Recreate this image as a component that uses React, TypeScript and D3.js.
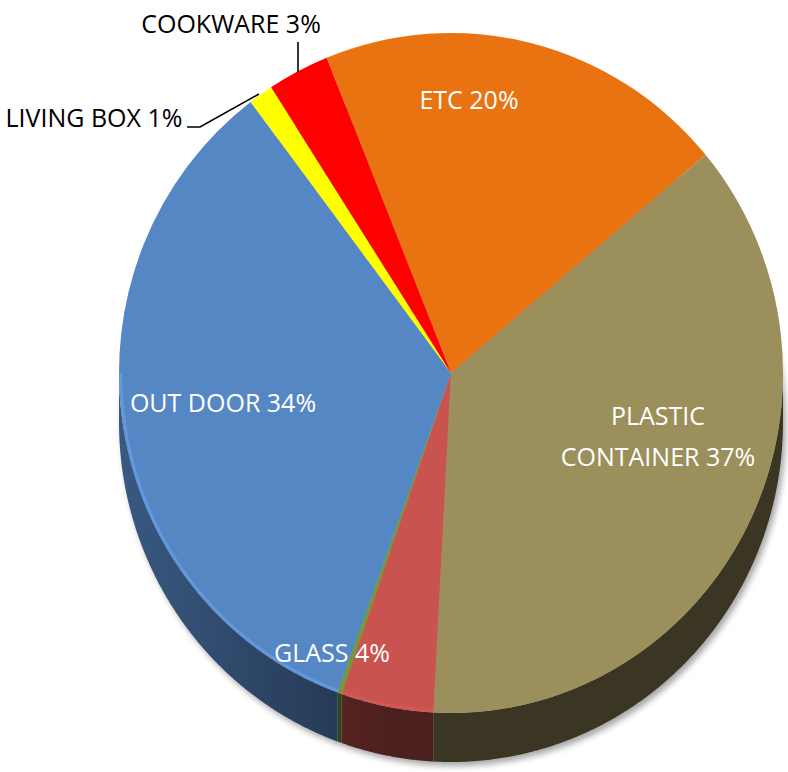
import React from "react";
import * as d3 from "d3";

const categories = ["ETC", "PLASTIC CONTAINER", "GLASS", "OTHER", "OUT DOOR", "LIVING BOX", "COOKWARE"];
const values = [20.0, 36.9, 4.5, 0.2, 34.1, 1.2, 3.0];
const pctLabels = ["20%", "37%", "4%", "", "34%", "1%", "3%"];
const colors = ["#E97311", "#9B8F5B", "#C9534F", "#6E9B34", "#5687C5", "#FFFF00", "#FF0000"];
const rimOpacity = [0, 0, 0.25, 0, 0.6, 0, 0];

const W = 788, H = 772;
const cx = 451, cy = 373, rx = 332, ry = 340, depth = 49, R = 340;
const startDeg = -22;

const labelLayout: { idx: number; lines: string[]; x: number; y: number; fill: string }[] = [
  { idx: 0, lines: [`${categories[0]} ${pctLabels[0]}`], x: 469, y: 109, fill: "#fff" },
  { idx: 1, lines: ["PLASTIC", `CONTAINER ${pctLabels[1]}`], x: 658, y: 425, fill: "#fff" },
  { idx: 2, lines: [`${categories[2]} ${pctLabels[2]}`], x: 332, y: 662, fill: "#fff" },
  { idx: 4, lines: [`${categories[4]} ${pctLabels[4]}`], x: 223, y: 412, fill: "#fff" },
  { idx: 5, lines: [`${categories[5]} ${pctLabels[5]}`], x: 94, y: 127, fill: "#000" },
  { idx: 6, lines: [`${categories[6]} ${pctLabels[6]}`], x: 231, y: 33, fill: "#000" },
];

function rimPt(t: number, dy = 0): [number, number] {
  return [cx + rx * Math.sin(t), cy - ry * Math.cos(t) + dy];
}

function rimRange(a0: number, a1: number): [number, number] | null {
  const s = Math.max(a0, Math.PI / 2);
  const e = Math.min(a1, (3 * Math.PI) / 2);
  return s < e ? [s, e] : null;
}

function sidePath(a0: number, a1: number): string | null {
  const r = rimRange(a0, a1);
  if (!r) return null;
  const [s, e] = r;
  const n = Math.max(2, Math.ceil((e - s) / 0.005));
  const top: [number, number][] = [];
  for (let i = 0; i <= n; i++) top.push(rimPt(s + ((e - s) * i) / n));
  const bot = top.map(([x, y]) => [x, y + depth] as [number, number]).reverse();
  return (d3.line()([...top, ...bot]) || "") + "Z";
}

function rimLine(a0: number, a1: number): string | null {
  const r = rimRange(a0, a1);
  if (!r) return null;
  const [s, e] = r;
  const n = Math.max(2, Math.ceil((e - s) / 0.005));
  const pts: [number, number][] = [];
  for (let i = 0; i <= n; i++) {
    const t = s + ((e - s) * i) / n;
    pts.push([cx + (rx - 2) * Math.sin(t), cy - (ry - 2) * Math.cos(t)]);
  }
  return d3.line()(pts);
}

const scaleRgb = (c: d3.RGBColor, k: number) => d3.rgb(c.r * k, c.g * k, c.b * k).toString();

export default function App() {
  const sa = (startDeg * Math.PI) / 180;
  const arcs = d3.pie<number>().sort(null).startAngle(sa).endAngle(sa + 2 * Math.PI)(values);
  const arcGen = d3.arc<d3.PieArcDatum<number>>().innerRadius(0).outerRadius(R);

  const shadowPts: [number, number][] = [];
  for (let i = 0; i <= 200; i++) shadowPts.push(rimPt((2 * Math.PI * i) / 200, depth));
  const shadowD = (d3.line()(shadowPts) || "") + "Z";

  const font = "'Open Sans', 'Noto Sans', sans-serif";

  return (
    <svg width={W} height={H} style={{ position: "absolute", left: 0, top: 0, background: "#fff" }}>
      <defs>
        <filter id="blur" x="-20%" y="-20%" width="140%" height="140%">
          <feGaussianBlur stdDeviation="3" />
        </filter>
        {colors.map((col, i) => {
          const c = d3.rgb(col);
          return (
            <linearGradient key={i} id={"side" + i} x1={cx - rx} x2={cx - 60} y1={0} y2={0} gradientUnits="userSpaceOnUse">
              <stop offset="0" stopColor={scaleRgb(c, 0.66)} />
              <stop offset="1" stopColor={scaleRgb(c, 0.38)} />
            </linearGradient>
          );
        })}
      </defs>
      <path d={shadowD} transform="translate(3,4)" fill="#000" opacity={0.35} filter="url(#blur)" />
      {arcs.map((a, i) => {
        const d = sidePath(a.startAngle, a.endAngle);
        if (!d) return null;
        return <path key={"s" + i} d={d} fill={`url(#side${i})`} />;
      })}
      <g transform={`translate(${cx},${cy}) scale(${rx / R},${ry / R})`}>
        {arcs.map((a, i) => (
          <path key={"t" + i} d={arcGen(a) || ""} fill={colors[i]} />
        ))}
      </g>
      {arcs.map((a, i) => {
        const d = rimLine(a.startAngle, a.endAngle);
        if (!d || !rimOpacity[i]) return null;
        return (
          <path key={"r" + i} d={d} fill="none" stroke={d3.rgb(colors[i]).brighter(0.6).toString()}
            strokeOpacity={rimOpacity[i]} strokeWidth={2.5} />
        );
      })}
      <polyline points="298,42 298,72" fill="none" stroke="#000" strokeWidth={1.6} />
      <polyline points="187,127 200,127 259,94" fill="none" stroke="#000" strokeWidth={1.6} />
      {labelLayout.map((l) => (
        <text key={"l" + l.idx} x={l.x} y={l.y} fill={l.fill} fontFamily={font} fontSize={25} textAnchor="middle">
          {l.lines.map((ln, j) => (
            <tspan key={j} x={l.x} dy={j === 0 ? 0 : 41}>
              {ln}
            </tspan>
          ))}
        </text>
      ))}
    </svg>
  );
}
